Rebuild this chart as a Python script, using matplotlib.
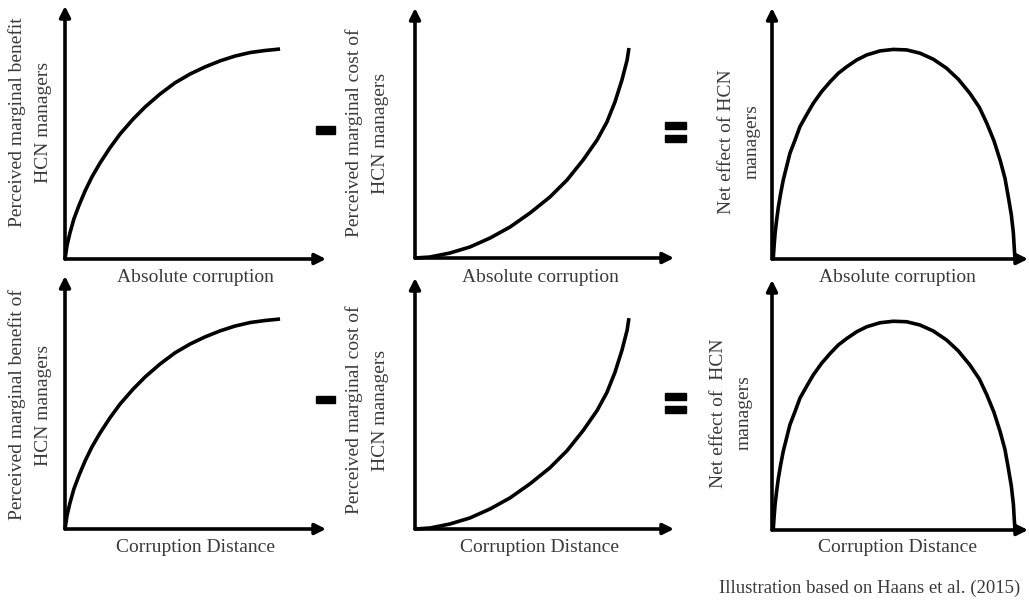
import matplotlib
matplotlib.use('Agg')
import matplotlib.pyplot as plt
from matplotlib.patches import Rectangle

W, H = 1029, 607

# curves, in % of the axis length (x from origin, y from origin)
benefit_x = [0, 0.8, 1.9, 3.4, 5.4, 7.7, 10.3, 13.4, 17.2, 21.1, 26.1, 30.7, 36.4, 42.1,
             47.9, 53.6, 59.4, 65.1, 70.9, 76.6, 82.4]
benefit_y = [0, 5.5, 10.3, 15.8, 21.3, 26.9, 32.4, 37.9, 43.9, 49.4, 55.3, 60.1, 65.2, 69.6,
             73.1, 75.9, 78.3, 80.2, 81.6, 82.4, 83.0]

cost_x = [0, 5.8, 13.5, 21.2, 29, 36.7, 44.4, 52.1, 58.7, 64.9, 70.3, 74.1, 77.2, 79.9, 81.9, 82.6]
cost_y = [0, 0.4, 2, 4.4, 8, 12.4, 18, 24.4, 31.2, 39.2, 47.2, 54.4, 62.4, 71.2, 79.2, 84]

net_x = [0, 0.5, 0.8, 1.2, 1.8, 2.5, 3.4, 4.4, 5.7, 7.0, 9.0, 10.9, 13.6, 16.1, 19.4, 22.7,
         25.9, 29.2, 33.1, 37, 42.2, 47.4, 52.6, 57.8, 63, 68.2, 72.8, 77.3, 81, 83.9, 86.7,
         89.1, 91, 92.3, 93.5, 94.3, 94.6, 94.9]
net_y = [0, 0.3, 4.9, 10.2, 15.5, 20.8, 26.2, 31.5, 36.8, 42.1, 47.4, 52.7, 57.6, 62, 66.7,
         70.6, 74, 76.6, 79.3, 81.3, 82.9, 83.5, 83.3, 82, 79.6, 76, 71.6, 66, 60.4, 54.1,
         47.1, 39.4, 32.2, 24.8, 17.5, 10.2, 4.9, 0.3]

row_xlabels = ['Absolute corruption', 'Corruption Distance']
ylabels = [
    ['Perceived marginal benefit\nHCN managers',
     'Perceived marginal cost of\nHCN managers',
     'Net effect of HCN\nmanagers'],
    ['Perceived marginal benefit of\nHCN managers',
     'Perceived marginal cost of\nHCN managers',
     'Net effect of  HCN\nmanagers'],
]
footer = 'Illustration based on Haans et al. (2015)'

# panel geometry in pixels: origin x, origin y, x-arrow tip, y-arrow tip
panels = [
    [(65, 259, 326, 6), (415, 258, 674, 8), (772, 259, 1028, 8)],
    [(65, 529, 326, 276), (415, 529, 674, 278), (772, 530, 1028, 280)],
]
curves = [(benefit_x, benefit_y), (cost_x, cost_y), (net_x, net_y)]
ylab_pos = [[(30, 122), (367, 133), (739, 142)],
            [(30, 405), (367, 410), (731, 413)]]
xlab_pos = [[195, 540, 897], [195, 540, 897]]
xlab_y = [277, 547]

plt.rcParams['font.family'] = ['Liberation Serif', 'DejaVu Serif']
txt_color = '#3a3a3a'
fs = 14


def fx(x):
    return x / W


def fy(y):
    return 1 - y / H


fig = plt.figure(figsize=(W / 100, H / 100), dpi=100)

for r in range(2):
    for c in range(3):
        ox, oy, tx, ty = panels[r][c]
        ax = fig.add_axes([fx(ox), fy(oy), (tx - ox) / W, (oy - ty) / H])
        ax.set_xlim(0, 100)
        ax.set_ylim(0, 100)
        ax.axis('off')
        arrow = dict(arrowstyle='-|>', lw=2.6, color='black',
                     mutation_scale=16, shrinkA=0, shrinkB=0)
        ax.annotate('', xy=(100, 0), xytext=(0, 0), arrowprops=arrow,
                    annotation_clip=False)
        ax.annotate('', xy=(0, 100), xytext=(0, 0), arrowprops=arrow,
                    annotation_clip=False)
        cx, cy = curves[c]
        ax.plot(cx, cy, color='black', lw=2.6, solid_capstyle='butt',
                solid_joinstyle='round', clip_on=False)

        lx, ly = ylab_pos[r][c]
        fig.text(fx(lx), fy(ly), ylabels[r][c], rotation=90, ha='center',
                 va='center', fontsize=fs, color=txt_color, linespacing=1.65,
                 multialignment='center')
        fig.text(fx(xlab_pos[r][c]), fy(xlab_y[r]), row_xlabels[r],
                 ha='center', va='center', fontsize=fs, color=txt_color)

# minus and equals signs between the panels
for yc in (130, 399):
    fig.patches.append(Rectangle((fx(316), fy(yc + 3.5)), 19 / W, 7 / H,
                                 transform=fig.transFigure, color='black'))
for yc in (132, 403):
    for dy in (-6.5, 6.5):
        fig.patches.append(Rectangle((fx(665), fy(yc + dy + 3.2)), 21 / W, 6.5 / H,
                                     transform=fig.transFigure, color='black'))

fig.text(fx(1020), fy(588), footer, ha='right', va='center', fontsize=13.5,
         color=txt_color)

fig.savefig('out.png', dpi=100)
